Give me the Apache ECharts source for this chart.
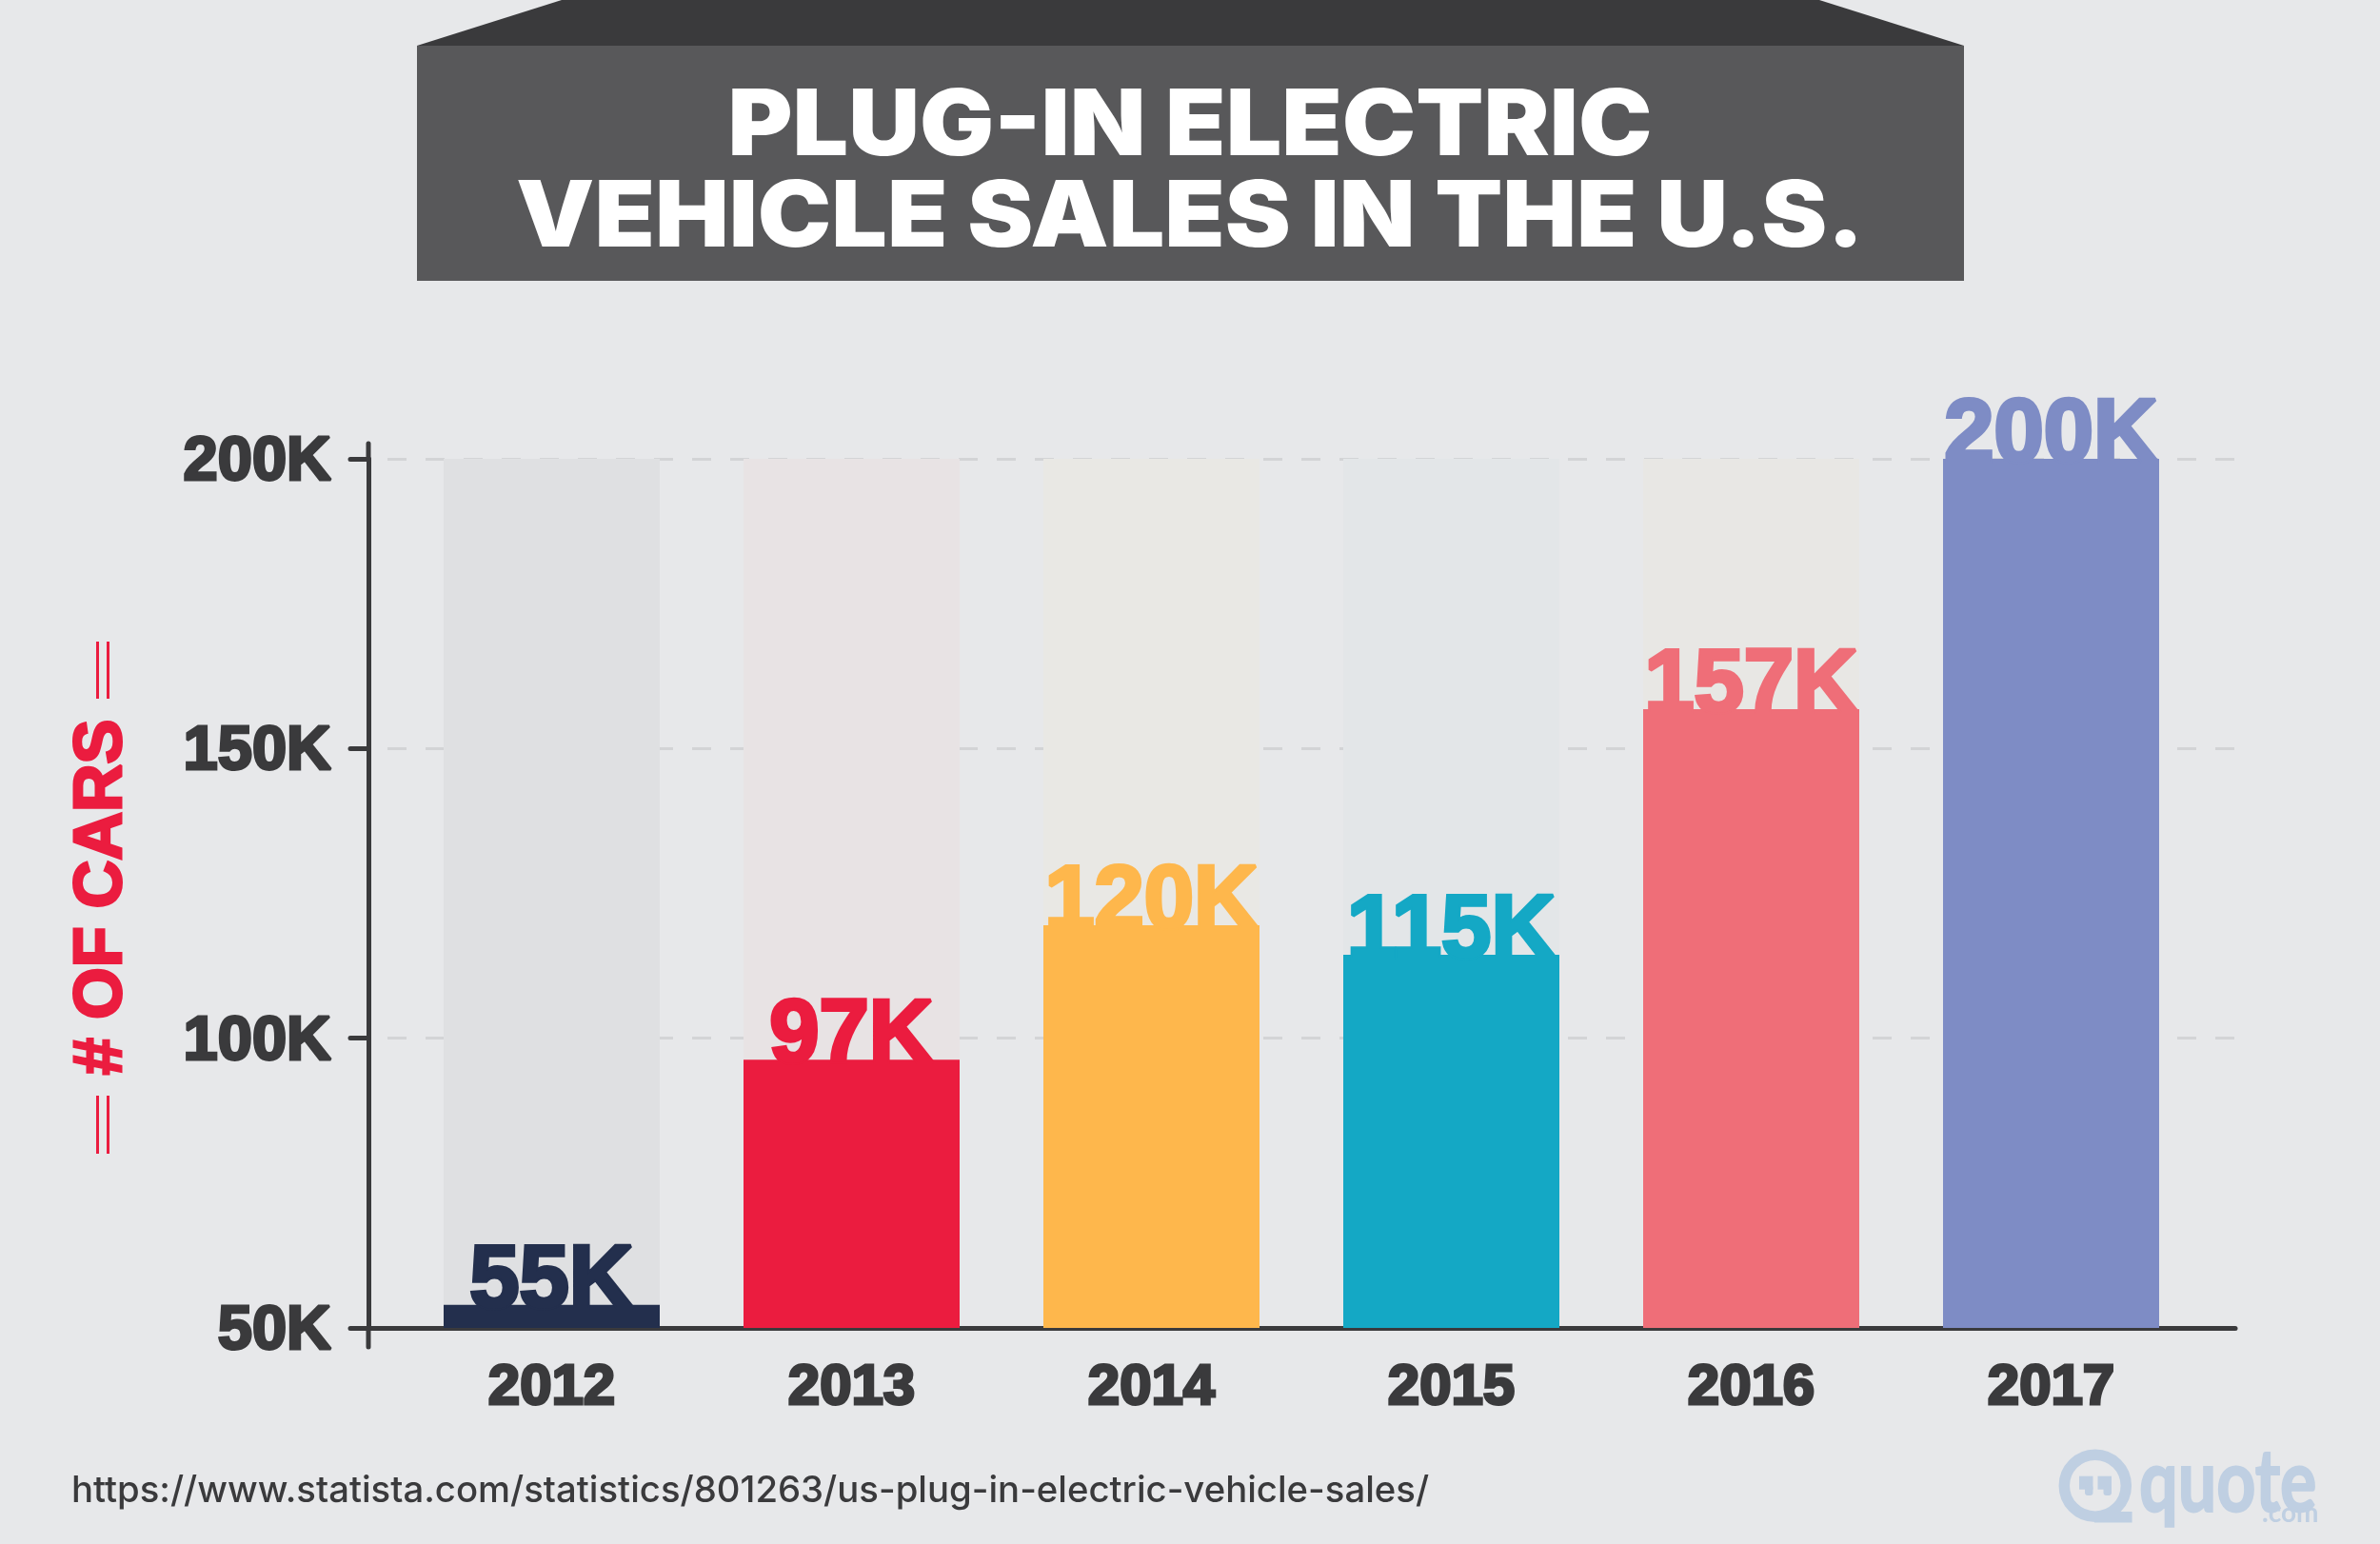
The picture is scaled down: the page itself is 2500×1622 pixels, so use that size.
<!DOCTYPE html>
<html>
<head>
<meta charset="utf-8">
<title>Plug-in electric vehicle sales in the U.S.</title>
<script src="https://cdn.jsdelivr.net/npm/echarts@6/dist/echarts.min.js"></script>
<style>
	html, body { margin: 0; padding: 0; background: #e7e8ea; }
	#chart { width: 2500px; height: 1622px; }
</style>
</head>
<body>
<div id="chart"></div>
<script>
var years = ['2012', '2013', '2014', '2015', '2016', '2017'];
// bar heights as drawn, the printed labels round them a little differently
var barValues = [54, 96.3, 119.5, 114.4, 156.8, 200];
var valueLabels = ['55K', '97K', '120K', '115K', '157K', '200K'];
var trackValues = [200, 200, 200, 200, 200, 200];
var barColors = ['#232f4d', '#eb1c3f', '#feb74c', '#14a8c5', '#ef6e78', '#7e8cc5'];
var trackColors = ['#dfe0e2', '#e8e3e4', '#e9e8e4', '#e3e6e8', '#e8e7e4', '#e7e8ea'];
var yMin = 50;
var yMax = 200;
var yStep = 50;

var BOLD = '"Liberation Sans"';
var INK = '#3a3a3c';
var RED = '#eb1c3f';
var LOGO = '#bfcfe2';

var chart = echarts.init(document.getElementById('chart'), null, { renderer: 'canvas' });

function buildData(values, colors) {
	var out = [];
	for (var i = 0; i < values.length; i++) {
		out.push({ value: values[i], itemStyle: { color: colors[i] } });
	}
	return out;
}

function redLine(x1, y1, x2, y2) {
	return {
		type: 'line',
		shape: { x1: x1, y1: y1, x2: x2, y2: y2 },
		style: { stroke: RED, lineWidth: 3 }
	};
}

function inkLine(x1, y1, x2, y2) {
	return {
		type: 'line',
		shape: { x1: x1, y1: y1, x2: x2, y2: y2 },
		style: { stroke: INK, lineWidth: 5, lineCap: 'round' }
	};
}

function logoRect(x, y, w, h, r) {
	return {
		type: 'rect',
		shape: { x: x, y: y, width: w, height: h, r: r || 0 },
		style: { fill: LOGO }
	};
}

var option = {
	backgroundColor: '#e7e8ea',
	animation: false,
	// grid 0 holds the bars, grid 1 the wider axis frame around them
	grid: [
		{ left: 422, top: 482, width: 1890, height: 913 },
		{ left: 387, top: 482, width: 1961, height: 913 }
	],
	xAxis: [
		{
			type: 'category',
			gridIndex: 0,
			data: years,
			axisLine: { show: false },
			axisTick: { show: false },
			axisLabel: {
				margin: 33,
				fontFamily: BOLD,
				fontWeight: 'bold',
				fontSize: 60,
				color: INK,
				textBorderColor: INK,
				textBorderWidth: 3
			}
		},
		{
			type: 'category',
			gridIndex: 1,
			data: years,
			axisLine: { lineStyle: { color: INK, width: 5 } },
			axisTick: { show: false },
			axisLabel: { show: false }
		}
	],
	yAxis: [
		{
			type: 'value',
			gridIndex: 0,
			min: yMin,
			max: yMax,
			interval: yStep,
			show: false
		},
		{
			type: 'value',
			gridIndex: 1,
			min: yMin,
			max: yMax,
			interval: yStep,
			name: '# OF CARS',
			nameLocation: 'middle',
			nameGap: 244,
			nameRotate: 90,
			nameTextStyle: {
				fontFamily: BOLD,
				fontWeight: 'bold',
				fontSize: 70,
				padding: [0, 8, 0, 0],
				color: RED,
				textBorderColor: RED,
				textBorderWidth: 3
			},
			axisLine: { show: true, lineStyle: { color: INK, width: 5 } },
			axisTick: { show: true, length: 19, lineStyle: { color: INK, width: 5, cap: 'round' } },
			axisLabel: {
				margin: 39,
				formatter: function(value) {
					return '{tick|' + value + 'K}';
				},
				// rich token so the padding nudges the text under its tick
				rich: {
					tick: {
						padding: [8, 0, 0, 0],
						fontFamily: BOLD,
						fontWeight: 'bold',
						fontSize: 65,
						color: INK,
						textBorderColor: INK,
						textBorderWidth: 3
					}
				}
			},
			splitLine: {
				show: true,
				lineStyle: { color: '#d3d4d6', width: 3, type: [20, 20], dashOffset: 20 }
			}
		}
	],
	series: [
		{
			name: 'track',
			type: 'bar',
			xAxisIndex: 0,
			yAxisIndex: 0,
			barWidth: 227,
			barGap: '-100%',
			silent: true,
			data: buildData(trackValues, trackColors)
		},
		{
			name: 'sales',
			type: 'bar',
			xAxisIndex: 0,
			yAxisIndex: 0,
			barWidth: 227,
			barGap: '-100%',
			data: buildData(barValues, barColors),
			label: {
				show: true,
				position: 'top',
				distance: 0,
				offset: [0, 24],
				fontFamily: BOLD,
				fontWeight: 'bold',
				fontSize: 94,
				color: 'inherit',
				textBorderColor: 'inherit',
				textBorderWidth: 4,
				formatter: function(p) {
					return valueLabels[p.dataIndex];
				}
			}
		}
	],
	graphic: [
		// title banner
		{
			type: 'polygon',
			shape: { points: [[438, 48], [590, 0], [1911, 0], [2063, 48]] },
			style: { fill: '#3a3a3c' }
		},
		{
			type: 'rect',
			shape: { x: 438, y: 48, width: 1625, height: 247 },
			style: { fill: '#58585a' }
		},
		// stretched on x, the original face is broader than Inter
		{
			type: 'text',
			x: 1250,
			y: 86,
			scaleX: 1.08,
			style: {
				text: 'PLUG-IN ELECTRIC\nVEHICLE SALES IN THE U.S.',
				font: '900 96px Inter',
				lineHeight: 96,
				textAlign: 'center',
				fill: '#ffffff'
			}
		},
		// y axis line runs a bit past both ends of the scale
		inkLine(387, 466, 387, 482),
		inkLine(387, 1395, 387, 1415),
		// double rules either side of the axis name
		redLine(102.5, 674, 102.5, 734),
		redLine(113.5, 674, 113.5, 734),
		redLine(102.5, 1151, 102.5, 1212),
		redLine(113.5, 1151, 113.5, 1212),
		// source line
		{
			type: 'text',
			x: 75,
			y: 1547,
			style: {
				text: 'https://www.statista.com/statistics/801263/us-plug-in-electric-vehicle-sales/',
				font: '500 38.3px Inter',
				fill: INK
			}
		},
		// logo
		{
			type: 'circle',
			shape: { cx: 2200.8, cy: 1560.7, r: 32.5 },
			style: { fill: 'none', stroke: LOGO, lineWidth: 11.5 }
		},
		logoRect(2200, 1588, 39.6, 11.5),
		logoRect(2184, 1550.7, 14.5, 14),
		logoRect(2190, 1560, 8.5, 11, 3),
		logoRect(2203.5, 1550.7, 14.5, 14),
		logoRect(2209.5, 1560, 8.5, 11, 3),
		{
			type: 'text',
			x: 2247,
			y: 1512,
			scaleX: 0.78,
			style: { text: 'quote', font: 'bold 92px Lato', fill: LOGO, stroke: LOGO, lineWidth: 2 }
		},
		{
			type: 'text',
			x: 2376,
			y: 1576,
			style: { text: '.com', font: 'bold 28px Lato', fill: LOGO }
		}
	]
};

chart.setOption(option);
</script>
</body>
</html>
